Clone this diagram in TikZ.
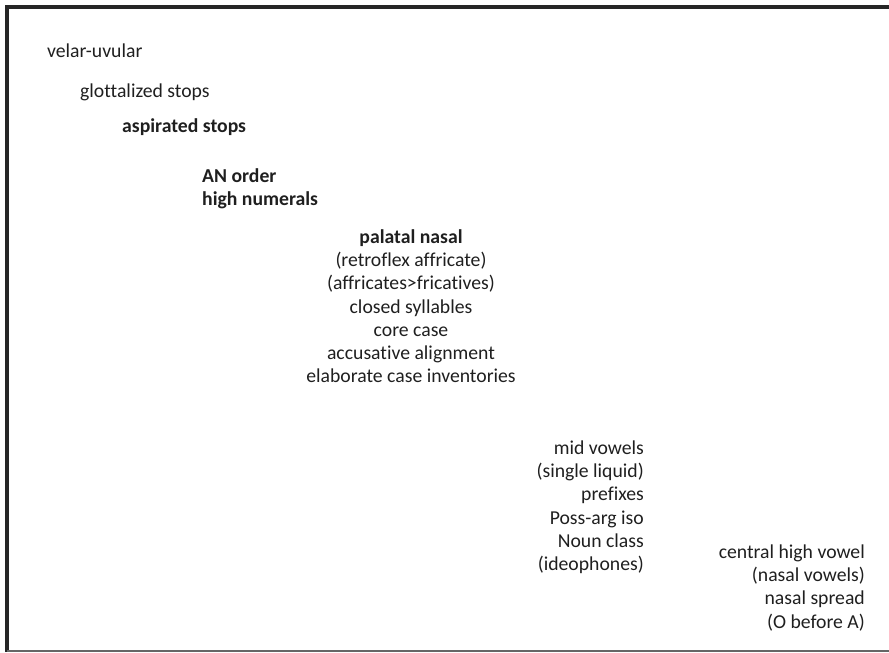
\documentclass[tikz,border=0pt]{standalone}
\usepackage{fontspec}
\setmainfont{Carlito}[Ligatures={NoCommon}]
\usetikzlibrary{matrix}
\newcommand\listsize{\fontsize{19.7}{23.3}\selectfont}

\begin{document}
\begin{tikzpicture}[x=1pt,y=1pt,
every node/.style={font=\listsize, text=black!88},
item/.style={inner sep=0pt},
bold/.style={font=\listsize\bfseries},
array/.style={matrix of nodes,nodes={inner sep=0pt, text height=16.5pt, text depth=6.8pt},
row sep=0pt, inner sep=0pt}]
\useasboundingbox (0,0) rectangle (889,653);
\draw[line width=3.5pt, black!85] (889,646) -- (7,646) -- (7,1);
\draw[line width=1.8pt, black!60] (7,2) -- (889,2);
\node[item, anchor=base west] (velar) at (47,595) {velar-uvular};
\node[item, anchor=base west] (glottal) at (80,555) {glottalized stops};
\node[item, bold, anchor=base west] (aspirated) at (122,520) {aspirated stops};
\matrix[array, nodes={anchor=base west, bold}, anchor=north west] (order) at (202,487.5) {
AN order\\
high numerals\\};
\matrix[array, nodes={anchor=base}, anchor=north] (core) at (411,426.5) {
|[bold]| palatal nasal\\
(retroflex affricate)\\
(affricates>fricatives)\\
closed syllables\\
core case\\
accusative alignment\\
elaborate case inventories\\};
\matrix[array, nodes={anchor=base east}, anchor=north east] (vowels) at (644,215.5) {
mid vowels\\
(single liquid)\\
prefixes\\
Poss-arg iso\\
Noun class\\
(ideophones)\\};
\matrix[array, nodes={anchor=base east}, anchor=north east] (nasal) at (865,111.5) {
central high vowel\\
(nasal vowels)\\
nasal spread\\
(O before A)\\};
\end{tikzpicture}
\end{document}
